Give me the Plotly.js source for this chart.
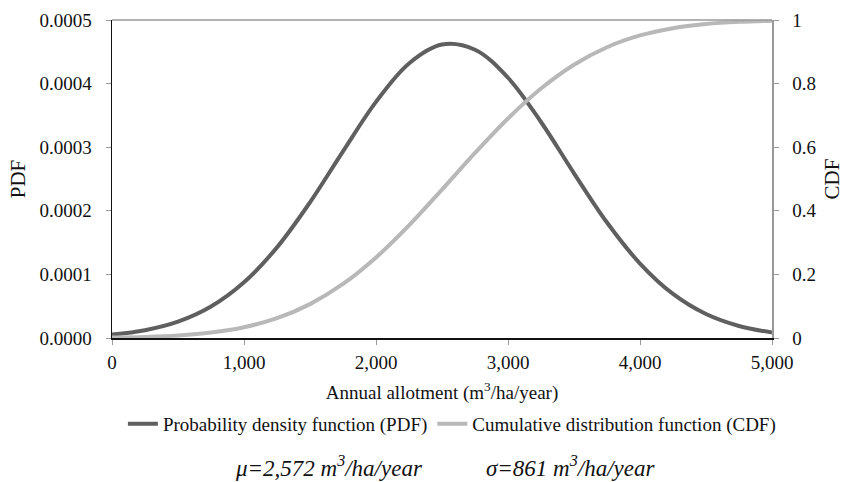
<!DOCTYPE html>
<html>
<head>
<meta charset="utf-8">
<script src="https://cdn.plot.ly/plotly-3.0.1.min.js"></script>
<style>html,body{margin:0;padding:0;background:#fff;}#chart{width:844px;height:482px;}</style>
</head>
<body>
<div id="chart"></div>
<script>
// Annual allotment (m3/ha/year)
var allotment = [0, 250, 500, 750, 1000, 1250, 1500, 1750, 2000, 2250, 2500, 2750, 3000, 3250, 3500, 3750, 4000, 4250, 4500, 4750, 5000];
// Probability density function values
var pdfValues = [0.0000053, 0.0000122, 0.0000256, 0.0000494, 0.0000875, 0.0001425, 0.0002133, 0.0002935, 0.0003713, 0.0004317, 0.0004614, 0.0004532, 0.0004092, 0.0003396, 0.0002590, 0.0001816, 0.0001171, 0.0000693, 0.0000377, 0.0000189, 0.0000087];
// Cumulative distribution function values
var cdfValues = [0.0014, 0.0035, 0.0081, 0.0172, 0.0339, 0.0623, 0.1066, 0.1699, 0.2532, 0.3542, 0.4667, 0.5819, 0.6904, 0.7845, 0.8594, 0.9144, 0.9514, 0.9743, 0.9874, 0.9943, 0.9976];
var xTickVals = [0, 1000, 2000, 3000, 4000, 5000];
var xTickText = ['0', '1,000', '2,000', '3,000', '4,000', '5,000'];
var pdfTickVals = [0, 0.0001, 0.0002, 0.0003, 0.0004, 0.0005];
var pdfTickText = ['0.0000', '0.0001', '0.0002', '0.0003', '0.0004', '0.0005'];
var cdfTickVals = [0, 0.2, 0.4, 0.6, 0.8, 1];
var cdfTickText = ['0', '0.2', '0.4', '0.6', '0.8', '1'];

var FONT = 'Liberation Serif';

var traces = [
  {x: allotment, y: pdfValues, type: 'scatter', mode: 'lines', name: 'Probability density function (PDF)',
   line: {color: '#5f5f5f', width: 4, shape: 'spline'}, yaxis: 'y'},
  {x: allotment, y: cdfValues, type: 'scatter', mode: 'lines', name: 'Cumulative distribution function (CDF)',
   line: {color: '#b8b8b8', width: 4, shape: 'spline'}, yaxis: 'y2'}
];

var layout = {
  width: 844, height: 482,
  margin: {l: 112, r: 72, t: 20, b: 144},
  paper_bgcolor: '#fff', plot_bgcolor: '#fff',
  font: {family: FONT, size: 19, color: '#111'},
  showlegend: true,
  legend: {orientation: 'h', x: 0.515, xanchor: 'center', y: -0.27, yanchor: 'middle',
           font: {family: FONT, size: 19, color: '#111'}, tracegroupgap: 0, itemwidth: 30},
  xaxis: {range: [0, 5000], tickvals: xTickVals, ticktext: xTickText, showgrid: false, zeroline: false,
          showline: true, linecolor: '#111', linewidth: 1.5, ticks: 'outside', ticklen: 5, tickcolor: '#999',
          ticklabelstandoff: 2,
          tickfont: {family: FONT, size: 19, color: '#111'},
          title: {text: 'Annual allotment (m<sup>3</sup>/ha/year)', font: {family: FONT, size: 19, color: '#111'}, standoff: 13}},
  yaxis: {range: [0, 0.0005], tickvals: pdfTickVals, ticktext: pdfTickText, showgrid: false, zeroline: false,
          showline: true, linecolor: '#111', linewidth: 1.5, ticks: 'outside', ticklen: 5, tickcolor: '#999',
          ticklabelstandoff: 10,
          tickfont: {family: FONT, size: 19, color: '#111'},
          title: {text: 'PDF', font: {family: FONT, size: 21, color: '#111'}, standoff: 8}},
  yaxis2: {range: [0, 1], tickvals: cdfTickVals, ticktext: cdfTickText, overlaying: 'y', side: 'right',
           showgrid: false, zeroline: false, showline: true, linecolor: '#999', linewidth: 1.5,
           ticks: 'outside', ticklen: 5, tickcolor: '#999', ticklabelstandoff: 10,
           tickfont: {family: FONT, size: 19, color: '#111'},
           title: {text: 'CDF', font: {family: FONT, size: 21, color: '#111'}, standoff: 14}},
  shapes: [
    {type: 'line', xref: 'paper', yref: 'paper', x0: 0, x1: 1, y0: 1, y1: 1, line: {color: '#999', width: 1.5}}
  ],
  annotations: [
    {xref: 'paper', yref: 'paper', x: (329 - 112) / 660, y: -0.405, xanchor: 'center', yanchor: 'middle', showarrow: false,
     text: '<i>μ=2,572 m<sup>3</sup>/ha/year</i>', font: {family: FONT, size: 23, color: '#111'}},
    {xref: 'paper', yref: 'paper', x: (570 - 112) / 660, y: -0.405, xanchor: 'center', yanchor: 'middle', showarrow: false,
     text: '<i>σ=861 m<sup>3</sup>/ha/year</i>', font: {family: FONT, size: 23, color: '#111'}}
  ]
};

Plotly.newPlot('chart', traces, layout, {displayModeBar: false, staticPlot: true});
</script>
</body>
</html>
